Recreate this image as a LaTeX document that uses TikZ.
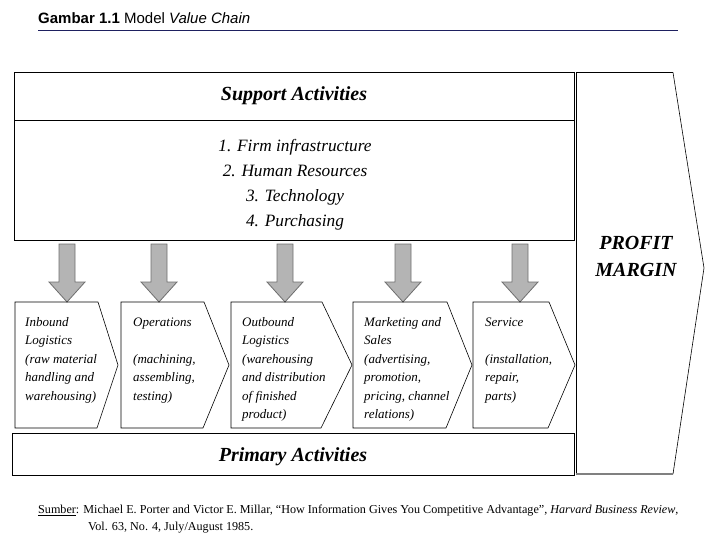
\documentclass[tikz,border=0pt]{standalone}
\usepackage{fontspec}
\setmainfont{Liberation Serif}
\newfontfamily\arialf{Liberation Sans}
\definecolor{navy}{HTML}{1E2060}
\definecolor{arrowgray}{HTML}{B4B4B4}
\definecolor{arrowedge}{HTML}{6E6E6E}
\tikzset{
  bigbox/.style={draw=black, line width=1pt},
  chev/.style={draw=black, line width=0.6pt},
  garrow/.style={draw=arrowedge, fill=arrowgray, line width=0.8pt},
  ptext/.style={anchor=north west, align=left, inner sep=0pt,
    font=\fontsize{13}{18.5}\selectfont\itshape},
  headtext/.style={font=\fontsize{20}{24}\selectfont\bfseries\itshape},
  listtext/.style={align=center, inner sep=0pt, font=\fontsize{17.3}{25}\selectfont\itshape}
}
\newcommand{\chevshape}[3]{%
  \draw[chev] (#1,302) -- (#2,302) -- (#3,365) -- (#2-1,428) -- (#1,428) -- cycle;}
\newcommand{\grayarrow}[1]{%
  \draw[garrow] (#1-8,244) -- (#1+8,244) -- (#1+8,282) -- (#1+18,282) -- (#1,302) -- (#1-18,282) -- (#1-8,282) -- cycle;}
\begin{document}
\begin{tikzpicture}[x=1pt,y=-1pt]
\useasboundingbox (0,0) rectangle (720,540);
% title
\node[anchor=west, inner sep=0pt, font=\arialf\fontsize{15}{17}\selectfont] (title) at (38,18)
  {\textbf{Gambar 1.1} Model \textit{Value Chain}};
\draw[navy, line width=1pt] (38,31) -- (678,31);
% support activities box
\draw[bigbox] (14,72.5) rectangle (574,240);
\draw[bigbox] (14,121) -- (574,121);
\node[headtext] (sup) at (294,96) {Support Activities};
\node[listtext] (list) at (295,185) {1. Firm infrastructure\\2. Human Resources\\3. Technology\\4. Purchasing};
% profit margin
\draw[draw=black, line width=0.6pt] (673,72.5) -- (704,268) -- (673,474);
\draw[draw=black, line width=1pt] (673,72.5) -- (576,72.5) -- (576,474);
\draw[draw=gray, line width=1.6pt] (576,474) -- (673,474);
\node[headtext, align=center, font=\fontsize{20}{27}\selectfont\bfseries\itshape] (profit) at (636,256) {PROFIT\\MARGIN};
% grey arrows
\grayarrow{67}
\grayarrow{159}
\grayarrow{285}
\grayarrow{403}
\grayarrow{520}
% primary chevrons
\chevshape{15}{98}{118}
\chevshape{121}{204}{229}
\chevshape{231}{322}{352}
\chevshape{353}{447}{472}
\chevshape{473}{549}{575}
\node[ptext] (p1) at (25,313) {\strut Inbound\\Logistics\\(raw material\\handling and\\warehousing)};
\node[ptext] (p2) at (133,313) {\strut Operations\\[18.5pt](machining,\\assembling,\\testing)};
\node[ptext] (p3) at (242,313) {\strut Outbound\\Logistics\\(warehousing\\and distribution\\of finished\\product)};
\node[ptext] (p4) at (364,313) {\strut Marketing and\\Sales\\(advertising,\\promotion,\\pricing, channel\\relations)};
\node[ptext] (p5) at (485,313) {\strut Service\\[18.5pt](installation,\\repair,\\parts)};
% primary activities box
\draw[bigbox] (12,433) rectangle (574,475);
\node[headtext] (prim) at (293,457) {Primary Activities};
% source
\node[anchor=west, inner sep=0pt, font=\fontsize{12.15}{14}\selectfont] (src1) at (38,511)
  {\underline{Sumber}: Michael E. Porter and Victor E. Millar, “How Information Gives You Competitive Advantage”, \textit{Harvard Business Review},};
\node[anchor=west, inner sep=0pt, font=\fontsize{12.15}{14}\selectfont] (src2) at (88,528)
  {Vol. 63, No. 4, July/August 1985.};
\end{tikzpicture}
\end{document}
